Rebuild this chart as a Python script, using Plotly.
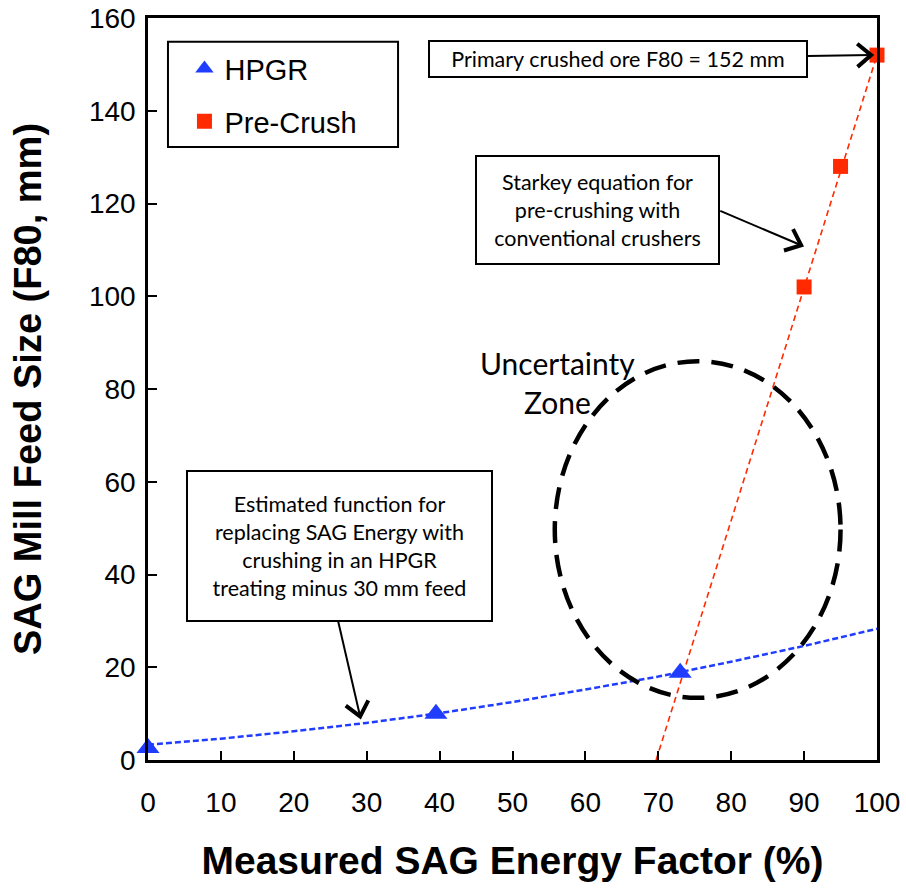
import math
import plotly.graph_objects as go

# ---- data ----
hpgr_x = [0, 39.5, 73]
hpgr_y = [2.6, 10.0, 18.8]

precrush_x = [90, 95, 100]
precrush_y = [102, 128, 152]

hpgr_fit_x = [0, 10, 20, 30, 40, 50, 60, 70, 80, 90, 100]
hpgr_fit_y = [3.3, 4.6, 6.2, 8.0, 10.1, 12.5, 15.2, 18.0, 21.2, 24.6, 28.3]

starkey_x = [69.7, 100]
starkey_y = [0, 152]

x_ticks = [0, 10, 20, 30, 40, 50, 60, 70, 80, 90, 100]
y_ticks = [0, 20, 40, 60, 80, 100, 120, 140, 160]

BLUE = "#1f3cff"
RED = "#ff2a00"
TEXTFONT = "Lato"
AXFONT = "Liberation Sans"

fig = go.Figure()
fig.add_trace(go.Scatter(x=hpgr_fit_x, y=hpgr_fit_y, mode="lines",
                         line=dict(color=BLUE, width=2.5, dash="6px,3px"),
                         showlegend=False, hoverinfo="skip"))
fig.add_trace(go.Scatter(x=starkey_x, y=starkey_y, mode="lines",
                         line=dict(color=RED, width=1.6, dash="6px,4px"),
                         showlegend=False, hoverinfo="skip"))
fig.add_trace(go.Scatter(x=hpgr_x, y=hpgr_y, mode="markers", name="HPGR",
                         legendgroup="a", cliponaxis=False,
                         marker=dict(symbol="triangle-up", size=20, color=BLUE)))
fig.add_trace(go.Scatter(x=precrush_x, y=precrush_y, mode="markers", name="Pre-Crush",
                         legendgroup="b", cliponaxis=False,
                         marker=dict(symbol="square", size=15, color=RED)))

# legend frame
fig.add_shape(type="rect", xref="paper", yref="paper",
              x0=0.0274, x1=0.343, y0=0.826, y1=0.968,
              line=dict(color="black", width=2), fillcolor="white", layer="below")

# uncertainty ellipse
fig.add_shape(type="circle", xref="x", yref="y", x0=55.8, x1=95.0, y0=13.4, y1=86.0,
              line=dict(color="black", width=4.5, dash="22px,12px"))

# px per unit (for chevron orientation only)
SX = 729 / 100.0
SY = 742 / 160.0


def arrow(tail, tip, width=2):
    fig.add_shape(type="line", xref="x", yref="y", x0=tail[0], y0=tail[1],
                  x1=tip[0], y1=tip[1], line=dict(color="black", width=width))
    dx = (tip[0] - tail[0]) * SX
    dy = (tip[1] - tail[1]) * SY
    ang = math.atan2(dy, dx)
    L = 18
    a = math.radians(40)
    p1 = (-L * math.cos(ang - a), -L * math.sin(ang - a))
    p2 = (-L * math.cos(ang + a), -L * math.sin(ang + a))
    path = f"M {p1[0]:.2f},{p1[1]:.2f} L 0,0 L {p2[0]:.2f},{p2[1]:.2f}"
    fig.add_shape(type="path", xref="x", yref="y", xsizemode="pixel", ysizemode="pixel",
                  xanchor=tip[0], yanchor=tip[1], path=path,
                  line=dict(color="black", width=4))


arrow((90.5, 151.8), (99.2, 152.0))
arrow((78.5, 118.4), (89.6, 111.0))
arrow((26.1, 29.8), (29.1, 9.4))

boxfont = dict(family=TEXTFONT, size=21.5, color="black")
fig.add_annotation(x=64.5, y=151.2, xref="x", yref="y", showarrow=False,
                   text="Primary crushed ore F80 = 152 mm", font=boxfont,
                   width=376, height=34, bordercolor="black", borderwidth=2,
                   borderpad=0, bgcolor="white")
fig.add_annotation(x=61.6, y=118.6, xref="x", yref="y", showarrow=False,
                   text="Starkey equation for<br>pre-crushing with<br>conventional crushers",
                   font=boxfont, width=241, height=106, bordercolor="black",
                   borderwidth=2, borderpad=0, bgcolor="white")
fig.add_annotation(x=26.3, y=46.1, xref="x", yref="y", showarrow=False,
                   text="Estimated function for<br>replacing SAG Energy with<br>crushing in an HPGR<br>treating minus 30 mm feed",
                   font=boxfont, width=303, height=148, bordercolor="black",
                   borderwidth=2, borderpad=0, bgcolor="white")
fig.add_annotation(x=56.2, y=81.5, xref="x", yref="y", showarrow=False,
                   text="Uncertainty<br>Zone", font=dict(family=TEXTFONT, size=30, color="black"))

fig.update_layout(
    width=906, height=892,
    margin=dict(l=148, r=29, t=18, b=132, autoexpand=False),
    paper_bgcolor="white", plot_bgcolor="white",
    legend=dict(x=0.05, y=0.966, xanchor="left", yanchor="top",
                borderwidth=0, bgcolor="rgba(0,0,0,0)",
                font=dict(family=AXFONT, size=29, color="black"),
                traceorder="grouped", tracegroupgap=12, itemwidth=30),
    xaxis=dict(range=[0, 100], tickvals=x_ticks, ticktext=[str(v) for v in x_ticks],
               ticks="inside", ticklen=9, tickwidth=2, tickcolor="black",
               showline=True, linewidth=2.5, linecolor="black", mirror=True,
               showgrid=False, zeroline=False, ticklabelstandoff=16, automargin=False,
               ticklabeloverflow="allow",
               tickfont=dict(family=AXFONT, size=28, color="black"),
               title=dict(text="<b>Measured SAG Energy Factor (%)</b>", standoff=30,
                          font=dict(family=AXFONT, size=39, color="black"))),
    yaxis=dict(range=[0, 160], tickvals=y_ticks, ticktext=[str(v) for v in y_ticks],
               ticks="inside", ticklen=9, tickwidth=2, tickcolor="black",
               showline=True, linewidth=2.5, linecolor="black", mirror=True,
               showgrid=False, zeroline=False, ticklabelstandoff=4, automargin=False,
               ticklabeloverflow="allow",
               tickfont=dict(family=AXFONT, size=28, color="black"),
               title=dict(text="<b>SAG Mill Feed Size (F80, mm)</b>", standoff=36,
                          font=dict(family=AXFONT, size=38, color="black"))),
)

fig.write_html("out.html", config={"displayModeBar": False},
               post_script="document.body.style.margin='0';document.body.style.overflow='hidden';")
